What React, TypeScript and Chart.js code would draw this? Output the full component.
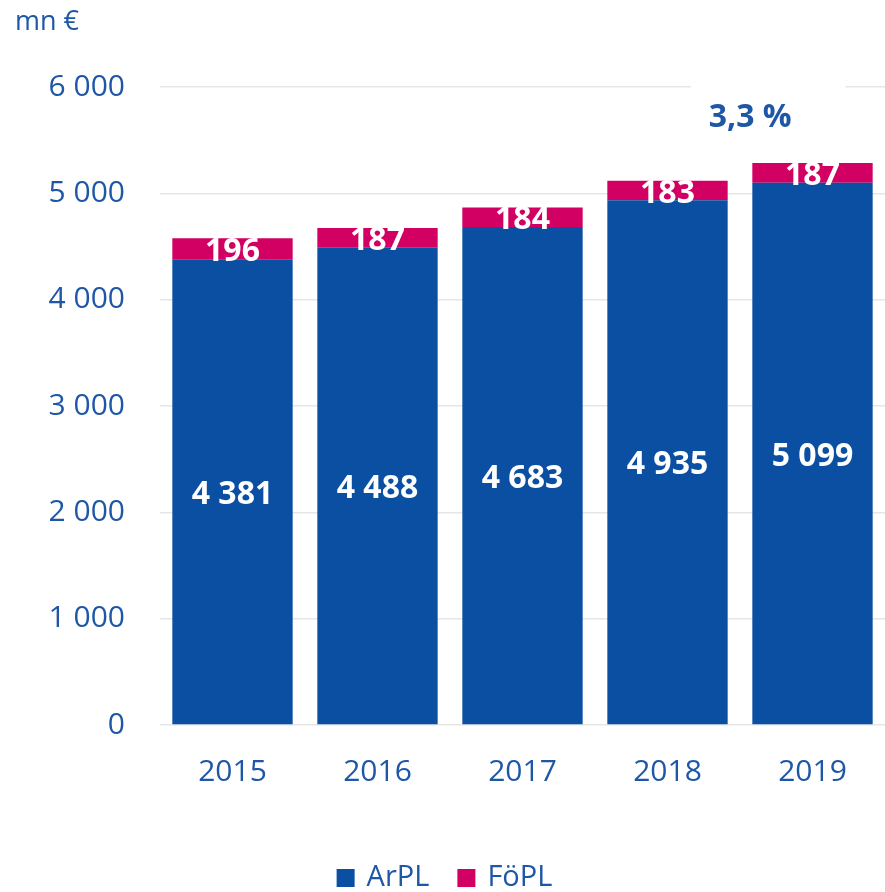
import React, { useEffect, useRef } from "react";
import { Chart, registerables } from "chart.js";

Chart.register(...registerables);

const categories = ["2015", "2016", "2017", "2018", "2019"];
const arplValues = [4381, 4488, 4683, 4935, 5099];
const foplValues = [196, 187, 184, 183, 187];
const yTicks = [0, 1000, 2000, 3000, 4000, 5000, 6000];
const seriesNames = ["ArPL", "FöPL"];
const unitLabel = "mn €";
const growthLabel = "3,3 %";

const BLUE = "#0b4fa3";
const PINK = "#d10062";
const TEXT = "#1f57a7";
const FONT = "'Open Sans', 'Segoe UI', sans-serif";

const fmt = (v: number) => {
  const s = Math.round(v).toString();
  return s.replace(/\B(?=(\d{3})+(?!\d))/g, " ");
};

export default function App() {
  const ref = useRef<HTMLCanvasElement | null>(null);
  useEffect(() => {
    document.body.style.margin = "0";
    const canvas = ref.current;
    if (!canvas) return;

    const labelsPlugin = {
      id: "customLabels",
      afterDatasetsDraw(chart: any) {
        const ctx = chart.ctx;
        ctx.save();
        ctx.fillStyle = "#ffffff";
        ctx.textAlign = "center";
        ctx.textBaseline = "middle";
        ctx.font = `bold 32px ${FONT}`;
        chart.data.datasets.forEach((ds: any, di: number) => {
          const meta = chart.getDatasetMeta(di);
          meta.data.forEach((el: any, i: number) => {
            const y = (el.y + el.base) / 2;
            ctx.fillText(fmt(ds.data[i]), el.x, y + 3);
          });
        });
        // growth label with white box
        const xs = chart.scales.x;
        const ys = chart.scales.y;
        const gx = xs.getPixelForValue(3.57);
        const gy = ys.getPixelForValue(5720);
        ctx.font = `bold 32px ${FONT}`;
        const w = ctx.measureText(growthLabel).width;
        ctx.fillStyle = "#ffffff";
        ctx.fillRect(gx - w / 2 - 18, gy - 40, w + 72, 62);
        ctx.fillStyle = TEXT;
        ctx.fillText(growthLabel, gx, gy + 1);
        // unit label
        ctx.textAlign = "left";
        ctx.font = `27px ${FONT}`;
        ctx.fillText(unitLabel, 15, 22);
        // legend
        ctx.font = `29px ${FONT}`;
        const box = 18;
        const gapBoxText = 12;
        const gapItems = 28;
        const items = chart.data.datasets.map((ds: any) => ({
          label: ds.label,
          color: ds.backgroundColor,
          w: box + gapBoxText + ctx.measureText(ds.label).width,
        }));
        const total =
          items.reduce((a: number, it: any) => a + it.w, 0) + gapItems * (items.length - 1);
        let lx = chart.width / 2 - total / 2 + 2;
        const ly = 878;
        items.forEach((it: any) => {
          ctx.fillStyle = it.color;
          ctx.fillRect(lx, ly - box / 2, box, box);
          ctx.fillStyle = TEXT;
          ctx.fillText(it.label, lx + box + gapBoxText, ly);
          lx += it.w + gapItems;
        });
        ctx.restore();
      },
    };

    const chart = new Chart(canvas, {
      type: "bar",
      data: {
        labels: categories,
        datasets: [
          {
            label: seriesNames[0],
            data: arplValues,
            backgroundColor: BLUE,
            barPercentage: 0.83,
            categoryPercentage: 1,
          },
          {
            label: seriesNames[1],
            data: foplValues,
            backgroundColor: PINK,
            barPercentage: 0.83,
            categoryPercentage: 1,
          },
        ],
      },
      options: {
        responsive: false,
        animation: false,
        layout: { padding: { top: 87, left: 0, right: 0, bottom: 0 } },
        plugins: {
          tooltip: { enabled: false },
          legend: { display: false },
        },
        scales: {
          x: {
            stacked: true,
            grid: { display: false },
            border: { display: false },
            afterFit: (scale: any) => {
              scale.height = 167;
            },
            ticks: { color: TEXT, font: { family: FONT, size: 30 }, padding: 21 },
          },
          y: {
            stacked: true,
            min: 0,
            max: 6000,
            afterBuildTicks: (scale: any) => {
              scale.ticks = yTicks.map((v) => ({ value: v }));
            },
            afterFit: (scale: any) => {
              scale.width = 160;
            },
            grid: { color: "#e6e6e6", lineWidth: 1.5, drawTicks: false },
            border: { display: false },
            ticks: {
              color: TEXT,
              font: { family: FONT, size: 30 },
              padding: 35,
              callback: (v: any) => fmt(Number(v)),
            },
          },
        },
      },
      plugins: [labelsPlugin],
    });
    return () => chart.destroy();
  }, []);
  return <canvas ref={ref} width={885} height={892} style={{ display: "block" }} />;
}
